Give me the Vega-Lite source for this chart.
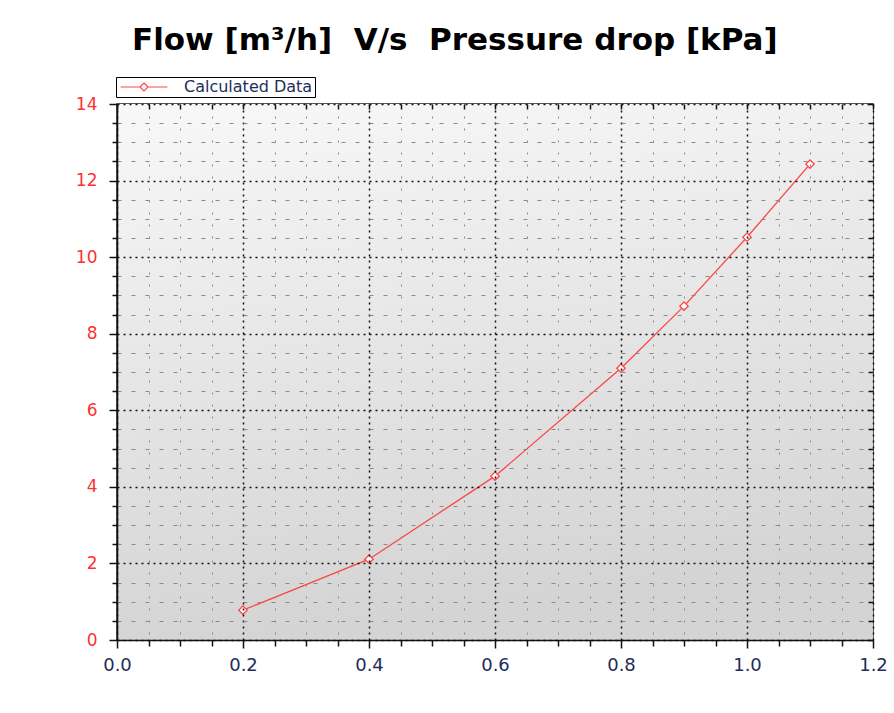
{
  "$schema": "https://vega.github.io/schema/vega-lite/v6.json",
  "width": 756,
  "height": 536,
  "autosize": {"type": "none"},
  "padding": {"left": 117, "top": 104, "right": 21, "bottom": 73},
  "background": "white",
  "config": {
    "view": {"stroke": "#222", "strokeWidth": 1.5},
    "font": "DejaVu Sans"
  },
  "title": {
    "text": "Flow [m³/h]\u00a0\u00a0V/s\u00a0\u00a0Pressure drop [kPa]",
    "font": "DejaVu Sans",
    "fontSize": 31,
    "fontWeight": "bold",
    "color": "#000000",
    "anchor": "start",
    "frame": "group",
    "dx": 15,
    "offset": 20
  },
  "datasets": {
    "calc": [
      {"flow": 0.2, "dp": 0.78, "series": "Calculated Data"},
      {"flow": 0.4, "dp": 2.11, "series": "Calculated Data"},
      {"flow": 0.6, "dp": 4.28, "series": "Calculated Data"},
      {"flow": 0.8, "dp": 7.1, "series": "Calculated Data"},
      {"flow": 0.9, "dp": 8.72, "series": "Calculated Data"},
      {"flow": 1.0, "dp": 10.52, "series": "Calculated Data"},
      {"flow": 1.1, "dp": 12.43, "series": "Calculated Data"}
    ],
    "bg": [{"k": 1}]
  },
  "resolve": {"axis": {"x": "independent", "y": "independent"}},
  "layer": [
    {
      "data": {"name": "bg"},
      "mark": {
        "type": "rect",
        "color": {
          "gradient": "linear",
          "x1": 0, "y1": 0, "x2": 0.2, "y2": 1,
          "stops": [
            {"offset": 0, "color": "#f8f8f8"},
            {"offset": 1, "color": "#d4d4d4"}
          ]
        }
      },
      "encoding": {}
    },
    {
      "data": {"name": "calc"},
      "mark": {"type": "line", "strokeWidth": 1.3},
      "encoding": {
        "x": {
          "field": "flow",
          "type": "quantitative",
          "scale": {"domain": [0, 1.2], "nice": false},
          "axis": {
            "title": null,
            "values": [0, 0.05, 0.1, 0.15, 0.2, 0.25, 0.3, 0.35, 0.4, 0.45, 0.5, 0.55, 0.6, 0.65, 0.7, 0.75, 0.8, 0.85, 0.9, 0.95, 1.0, 1.05, 1.1, 1.15, 1.2],
            "labelExpr": "abs(datum.value*5-round(datum.value*5))<0.001 ? format(datum.value,'.1f') : ''",
            "labelOverlap": false,
            "labelFlush": false,
            "labelFont": "DejaVu Sans",
            "labelFontSize": 18,
            "labelColor": "#1e2d5a",
            "labelPadding": 8,
            "tickSize": {"condition": {"test": "abs(datum.value*5-round(datum.value*5))<0.001", "value": 8}, "value": 6},
            "tickColor": "#111",
            "tickWidth": 1.5,
            "domainColor": "#111",
            "domainWidth": 1.5,
            "grid": true,
            "gridColor": {"condition": {"test": "abs(datum.value*5-round(datum.value*5))<0.001", "value": "#111"}, "value": "#8a8a8a"},
            "gridDash": {"condition": {"test": "abs(datum.value*5-round(datum.value*5))<0.001", "value": [2, 4]}, "value": [2, 10]},
            "gridWidth": {"condition": {"test": "abs(datum.value*5-round(datum.value*5))<0.001", "value": 1.5}, "value": 1},
            "zindex": 1
          }
        },
        "y": {
          "field": "dp",
          "type": "quantitative",
          "scale": {"domain": [0, 14], "nice": false},
          "axis": {
            "title": null,
            "values": [0, 0.5, 1, 1.5, 2, 2.5, 3, 3.5, 4, 4.5, 5, 5.5, 6, 6.5, 7, 7.5, 8, 8.5, 9, 9.5, 10, 10.5, 11, 11.5, 12, 12.5, 13, 13.5, 14],
            "labelExpr": "datum.value % 2 === 0 ? format(datum.value,'d') : ''",
            "labelOverlap": false,
            "labelFlush": false,
            "labelFont": "DejaVu Sans",
            "labelFontSize": 17,
            "labelColor": "#ff3030",
            "labelPadding": 12,
            "tickSize": {"condition": {"test": "datum.value % 2 === 0", "value": 8}, "value": 5},
            "tickColor": "#111",
            "tickWidth": 1.5,
            "domainColor": "#111",
            "domainWidth": 1.5,
            "grid": true,
            "gridColor": {"condition": {"test": "datum.value % 2 === 0", "value": "#111"}, "value": "#8a8a8a"},
            "gridDash": {"condition": {"test": "datum.value % 2 === 0", "value": [2, 4]}, "value": [4, 10]},
            "gridWidth": {"condition": {"test": "datum.value % 2 === 0", "value": 1.5}, "value": 1},
            "zindex": 1
          }
        },
        "color": {
          "field": "series",
          "type": "nominal",
          "scale": {"range": ["#ff4545"]},
          "legend": {
            "orient": "none",
            "legendX": -1,
            "legendY": -27,
            "title": null,
            "strokeColor": "#000",
            "padding": 2,
            "fillColor": "white",
            "symbolType": "M-3.9,0H-0.67M0.67,0H3.9M0,-0.67L0.67,0L0,0.67L-0.67,0Z",
            "symbolSize": 144,
            "symbolStrokeWidth": 1.2,
            "symbolFillColor": "white",
            "symbolStrokeColor": "#ff4545",
            "symbolOffset": 18,
            "labelOffset": 32,
            "labelExpr": "datum.label + '\u00a0\u00a0\u00a0'",
            "labelFont": "DejaVu Sans",
            "labelFontSize": 16,
            "labelColor": "#1e2d5a",
            "labelLimit": 0
          }
        }
      }
    },
    {
      "data": {"name": "calc"},
      "mark": {"type": "point", "shape": "diamond", "filled": true, "fill": "white", "stroke": "#ff4545", "strokeWidth": 1.3, "size": 70, "opacity": 1},
      "encoding": {
        "x": {
          "field": "flow",
          "type": "quantitative",
          "axis": {
            "orient": "top",
            "title": null,
            "labels": false,
            "grid": false,
            "domain": false,
            "values": [0, 0.05, 0.1, 0.15, 0.2, 0.25, 0.3, 0.35, 0.4, 0.45, 0.5, 0.55, 0.6, 0.65, 0.7, 0.75, 0.8, 0.85, 0.9, 0.95, 1.0, 1.05, 1.1, 1.15, 1.2],
            "tickSize": -5,
            "tickColor": "#111",
            "tickWidth": 1.5,
            "zindex": 1
          }
        },
        "y": {
          "field": "dp",
          "type": "quantitative",
          "axis": {
            "orient": "right",
            "title": null,
            "labels": false,
            "grid": false,
            "domain": false,
            "values": [0, 0.5, 1, 1.5, 2, 2.5, 3, 3.5, 4, 4.5, 5, 5.5, 6, 6.5, 7, 7.5, 8, 8.5, 9, 9.5, 10, 10.5, 11, 11.5, 12, 12.5, 13, 13.5, 14],
            "tickSize": -5,
            "tickColor": "#111",
            "tickWidth": 1.5,
            "zindex": 1
          }
        }
      }
    }
  ]
}
